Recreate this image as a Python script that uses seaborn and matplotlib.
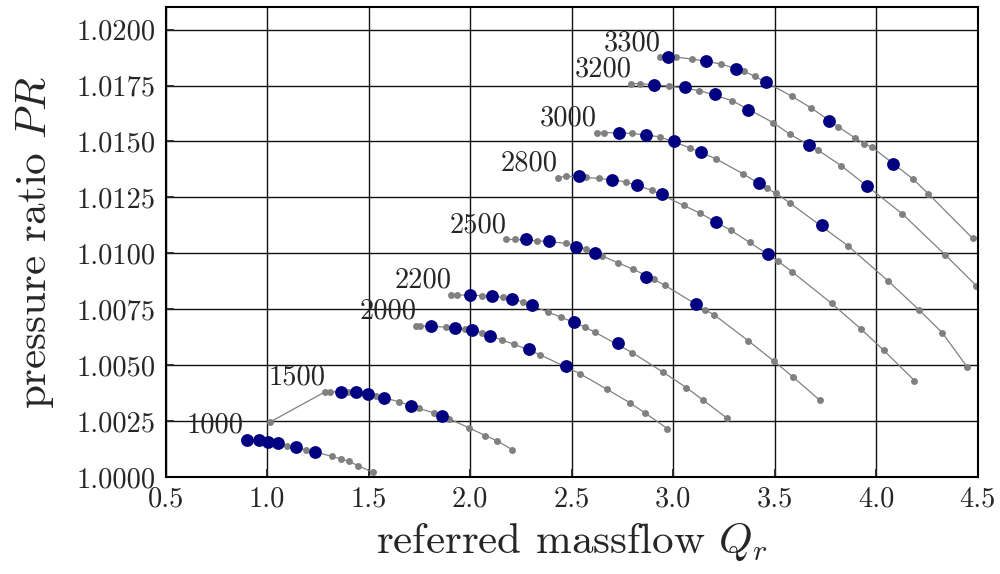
import pandas as pd
import matplotlib
matplotlib.use('Agg')
import matplotlib.pyplot as plt
from matplotlib.ticker import FormatStrFormatter, MultipleLocator
import seaborn as sns

# speed lines: gray line points (Qr, PR) and highlighted operating points
speeds = [1000, 1500, 2000, 2200, 2500, 2800, 3000, 3200, 3300]

q_1000 = [0.885, 0.905, 0.96, 1.00, 1.05, 1.10, 1.19, 1.318, 1.365, 1.403, 1.449, 1.521]
pr_1000 = [1.00166, 1.00166, 1.00163, 1.00159, 1.00152, 1.00137, 1.00122, 1.00092, 1.00080, 1.00069, 1.00050, 1.00020]
q_1500 = [1.013, 1.287, 1.311, 1.40, 1.45, 1.538, 1.649, 1.748, 1.820, 1.895, 1.993, 2.074, 2.131, 2.207]
pr_1500 = [1.00245, 1.00381, 1.00381, 1.00379, 1.00375, 1.00363, 1.00336, 1.00306, 1.00287, 1.00260, 1.00220, 1.00185, 1.00162, 1.00122]
q_2000 = [1.735, 1.751, 1.81, 1.880, 1.973, 2.06, 2.159, 2.218, 2.343, 2.540, 2.676, 2.786, 2.860, 2.972]
pr_2000 = [1.00676, 1.00676, 1.00673, 1.00670, 1.00661, 1.00645, 1.00611, 1.00593, 1.00547, 1.00462, 1.00391, 1.00332, 1.00287, 1.00216]
q_2200 = [1.907, 1.935, 2.060, 2.16, 2.26, 2.384, 2.446, 2.565, 2.615, 2.800, 2.951, 3.066, 3.148, 3.265]
pr_2200 = [1.00814, 1.00814, 1.00811, 1.00803, 1.00783, 1.00737, 1.00715, 1.00671, 1.00647, 1.00555, 1.00468, 1.00399, 1.00343, 1.00263]
q_2500 = [2.178, 2.220, 2.331, 2.474, 2.573, 2.651, 2.729, 2.803, 2.905, 2.961, 3.156, 3.204, 3.370, 3.498, 3.592, 3.724]
pr_2500 = [1.01062, 1.01062, 1.01056, 1.01045, 1.01018, 1.00988, 1.00957, 1.00929, 1.00884, 1.00856, 1.00748, 1.00724, 1.00609, 1.00517, 1.00446, 1.00342]
q_2800 = [2.431, 2.472, 2.570, 2.636, 2.766, 2.898, 3.052, 3.134, 3.284, 3.377, 3.515, 3.587, 3.781, 3.924, 4.038, 4.189]
pr_2800 = [1.01338, 1.01345, 1.01339, 1.01335, 1.01320, 1.01281, 1.01214, 1.01179, 1.01103, 1.01049, 1.00966, 1.00917, 1.00776, 1.00663, 1.00566, 1.00431]
q_3000 = [2.623, 2.659, 2.800, 2.934, 3.082, 3.210, 3.344, 3.462, 3.508, 3.574, 3.861, 4.061, 4.213, 4.326, 4.448]
pr_3000 = [1.01540, 1.01540, 1.01536, 1.01521, 1.01472, 1.01423, 1.01356, 1.01290, 1.01268, 1.01226, 1.01034, 1.00875, 1.00746, 1.00645, 1.00493]
q_3200 = [2.795, 2.836, 2.980, 3.130, 3.290, 3.494, 3.576, 3.713, 3.828, 4.130, 4.341, 4.495]
pr_3200 = [1.01759, 1.01759, 1.01748, 1.01728, 1.01683, 1.01584, 1.01532, 1.01462, 1.01392, 1.01176, 1.00993, 1.00854]
q_3300 = [2.938, 3.016, 3.093, 3.235, 3.349, 3.402, 3.586, 3.682, 3.814, 3.896, 3.941, 3.980, 4.180, 4.258, 4.476]
pr_3300 = [1.01877, 1.01877, 1.01869, 1.01847, 1.01814, 1.01792, 1.01702, 1.01649, 1.01566, 1.01516, 1.01490, 1.01475, 1.01334, 1.01266, 1.01067]

op_q_1000 = [0.903, 0.961, 1.002, 1.051, 1.141, 1.238]
op_pr_1000 = [1.00166, 1.00163, 1.00158, 1.00152, 1.00133, 1.00113]
op_q_1500 = [1.366, 1.436, 1.497, 1.575, 1.711, 1.862]
op_pr_1500 = [1.00381, 1.00378, 1.00370, 1.00353, 1.00316, 1.00272]
op_q_2000 = [1.809, 1.924, 2.011, 2.100, 2.290, 2.474]
op_pr_2000 = [1.00673, 1.00666, 1.00655, 1.00632, 1.00572, 1.00495]
op_q_2200 = [1.998, 2.110, 2.208, 2.303, 2.510, 2.730]
op_pr_2200 = [1.00814, 1.00807, 1.00796, 1.00767, 1.00694, 1.00598]
op_q_2500 = [2.277, 2.389, 2.524, 2.614, 2.868, 3.114]
op_pr_2500 = [1.01062, 1.01053, 1.01030, 1.01003, 1.00896, 1.00772]
op_q_2800 = [2.534, 2.697, 2.823, 2.944, 3.210, 3.469]
op_pr_2800 = [1.01345, 1.01330, 1.01307, 1.01263, 1.01140, 1.00997]
op_q_3000 = [2.734, 2.869, 3.003, 3.136, 3.423, 3.733]
op_pr_3000 = [1.01540, 1.01528, 1.01503, 1.01454, 1.01314, 1.01125]
op_q_3200 = [2.908, 3.059, 3.205, 3.370, 3.672, 3.955]
op_pr_3200 = [1.01754, 1.01744, 1.01714, 1.01642, 1.01485, 1.01302]
op_q_3300 = [2.977, 3.163, 3.309, 3.459, 3.769, 4.082]
op_pr_3300 = [1.01877, 1.01859, 1.01825, 1.01768, 1.01593, 1.01400]

lines_q = [q_1000, q_1500, q_2000, q_2200, q_2500, q_2800, q_3000, q_3200, q_3300]
lines_pr = [pr_1000, pr_1500, pr_2000, pr_2200, pr_2500, pr_2800, pr_3000, pr_3200, pr_3300]
ops_q = [op_q_1000, op_q_1500, op_q_2000, op_q_2200, op_q_2500, op_q_2800, op_q_3000, op_q_3200, op_q_3300]
ops_pr = [op_pr_1000, op_pr_1500, op_pr_2000, op_pr_2200, op_pr_2500, op_pr_2800, op_pr_3000, op_pr_3200, op_pr_3300]

sns.set_style('white')
plt.rcParams['font.family'] = 'serif'
plt.rcParams['font.serif'] = ['cmr10']
plt.rcParams['mathtext.fontset'] = 'cm'
plt.rcParams['axes.formatter.use_mathtext'] = True
plt.rcParams['axes.unicode_minus'] = False

lines = pd.concat([pd.DataFrame({'Qr': q, 'PR': p, 'speed': s})
                   for s, q, p in zip(speeds, lines_q, lines_pr)], ignore_index=True)
ops = pd.concat([pd.DataFrame({'Qr': q, 'PR': p, 'speed': s})
                 for s, q, p in zip(speeds, ops_q, ops_pr)], ignore_index=True)

fig = plt.figure(figsize=(10, 5.74), dpi=100)
ax = fig.add_axes([0.1657, 0.1692, 0.8118, 0.818])

sns.lineplot(data=lines, x='Qr', y='PR', units='speed', estimator=None, sort=False,
             color='#808080', linewidth=0.9, marker='o', markersize=5,
             markeredgewidth=0, legend=False, ax=ax, zorder=2)
sns.scatterplot(data=ops, x='Qr', y='PR', color='navy', s=85, linewidth=0,
                legend=False, ax=ax, zorder=3)

# speed labels at the start of the flat part of each line
for s, q, p in zip(speeds, lines_q, lines_pr):
    top = max(p)
    i = next(k for k, v in enumerate(p) if v >= top - 1e-4)
    ax.annotate(str(s), (q[i], p[i]), xytext=(0, 5), textcoords='offset points',
                ha='right', va='baseline', fontsize=20.5)

ax.set_xlim(0.5, 4.5)
ax.set_ylim(1.0, 1.021)
ax.xaxis.set_major_locator(MultipleLocator(0.5))
ax.yaxis.set_major_locator(MultipleLocator(0.0025))
ax.xaxis.set_major_formatter(FormatStrFormatter('%.1f'))
ax.yaxis.set_major_formatter(FormatStrFormatter('%.4f'))
ax.grid(True, color='#111111', linewidth=1.0)
ax.set_axisbelow(True)
ax.tick_params(direction='in', length=6, width=1.3, pad=7, labelsize=20.5,
               left=True, bottom=True)
for sp in ax.spines.values():
    sp.set_linewidth(1.5)
    sp.set_color('black')

ax.set_xlabel('referred massflow $Q_r$', fontsize=31, labelpad=6)
ax.set_ylabel('pressure ratio $PR$', fontsize=31, labelpad=15)

fig.savefig('out.png', dpi=100)
